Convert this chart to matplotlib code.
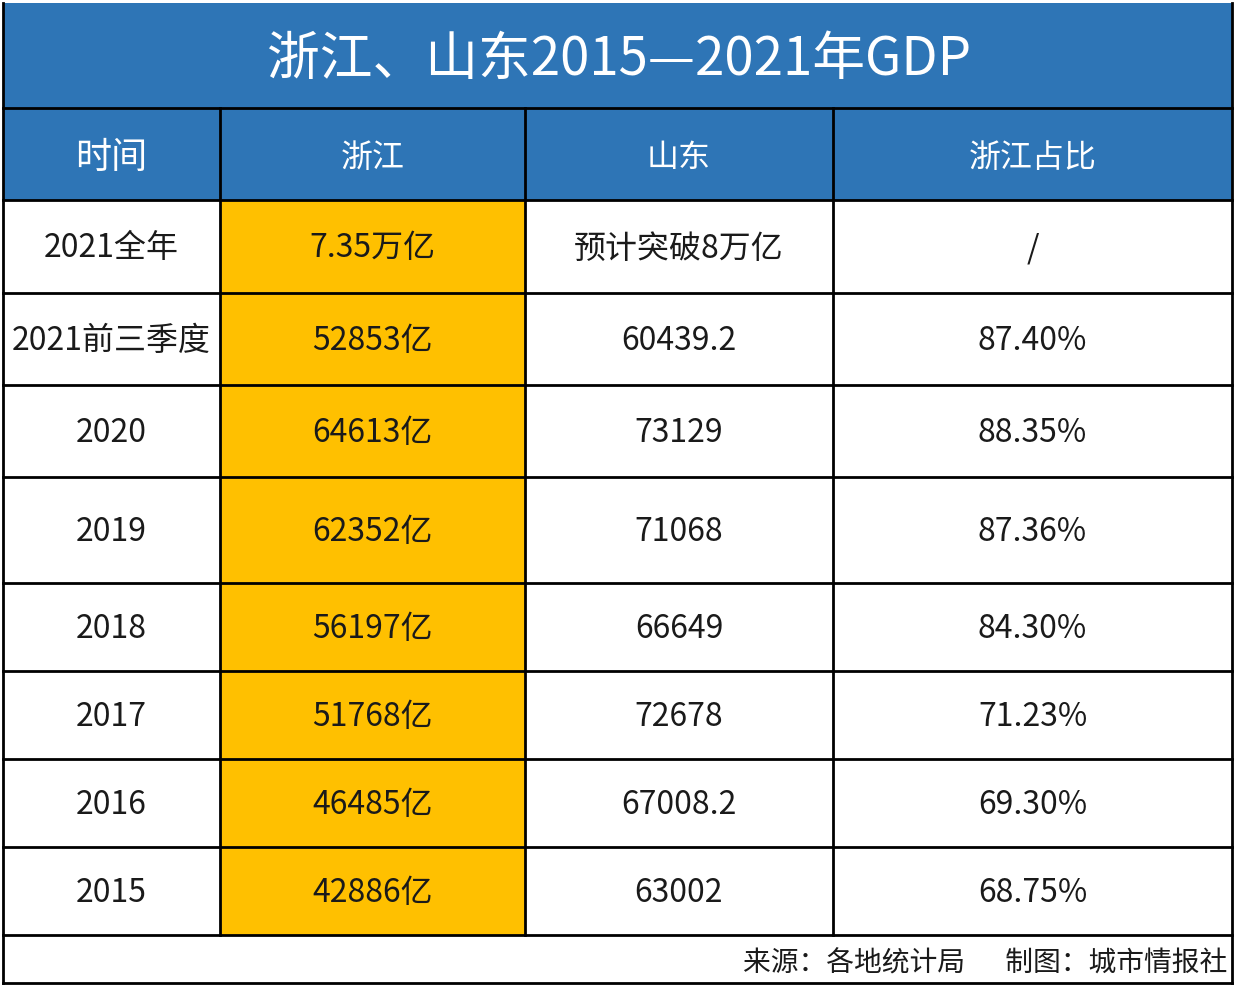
"""
浙江、山东2015—2021年GDP table
"""

import matplotlib
matplotlib.use("Agg")
import matplotlib.pyplot as plt
from matplotlib.patches import Rectangle

plt.rcParams['font.family'] = ['Noto Sans CJK SC', 'DejaVu Sans']

title = "浙江、山东2015—2021年GDP"
headers = ["时间", "浙江", "山东", "浙江占比"]
periods = ["2021全年", "2021前三季度", "2020", "2019", "2018", "2017", "2016", "2015"]
zhejiang = ["7.35万亿", "52853亿", "64613亿", "62352亿", "56197亿", "51768亿", "46485亿", "42886亿"]
shandong = ["预计突破8万亿", "60439.2", "73129", "71068", "66649", "72678", "67008.2", "63002"]
share = ["/", "87.40%", "88.35%", "87.36%", "84.30%", "71.23%", "69.30%", "68.75%"]
source = "来源：各地统计局　  制图：城市情报社"

BLUE = "#2E75B6"
YELLOW = "#FFC000"

# layout in pixels
left, right = 3, 1232
col_edges = [left, 220, 525, 833, right]
title_top, header_top = 3, 108
row_edges = [200, 293, 385, 477, 583, 671, 759, 847, 935]
bottom = 983

fig = plt.figure(figsize=(12.36, 9.86), dpi=100)
ax = fig.add_axes([0, 0, 1, 1])
ax.set_xlim(0, 1236)
ax.set_ylim(986, 0)
ax.axis('off')

lw = 2.0

# title band
ax.add_patch(Rectangle((left, title_top), right - left, header_top - title_top,
                       facecolor=BLUE, edgecolor='none'))
ax.text((left + right) / 2 + 2, (title_top + header_top) / 2 + 4, title,
        ha='center', va='center', color='white', fontsize=38)

# header row
ax.add_patch(Rectangle((left, header_top), right - left, row_edges[0] - header_top,
                       facecolor=BLUE, edgecolor='none'))
for i, h in enumerate(headers):
    cx = (col_edges[i] + col_edges[i + 1]) / 2
    ax.text(cx, (header_top + row_edges[0]) / 2 + 4, h, ha='center', va='center',
            color='white', fontsize=26 if i == 0 else 23)

# data rows
columns = [periods, zhejiang, shandong, share]
for r in range(len(periods)):
    y0, y1 = row_edges[r], row_edges[r + 1]
    ax.add_patch(Rectangle((col_edges[1], y0), col_edges[2] - col_edges[1], y1 - y0,
                           facecolor=YELLOW, edgecolor='none'))
    for c, col in enumerate(columns):
        cx = (col_edges[c] + col_edges[c + 1]) / 2
        ax.text(cx, (y0 + y1) / 2 + 2, col[r], ha='center', va='center',
                color='#1a1a1a', fontsize=23)

# grid lines
ax.plot([left, right], [header_top, header_top], color='black', lw=lw)
for y in row_edges:
    ax.plot([left, right], [y, y], color='black', lw=lw)
for x in col_edges[1:-1]:
    ax.plot([x, x], [header_top, row_edges[-1]], color='black', lw=lw)
ax.plot([left, left], [title_top, bottom], color='black', lw=lw)
ax.plot([right, right], [title_top, bottom], color='black', lw=lw)
ax.plot([left, right], [bottom, bottom], color='black', lw=lw)

# footer
ax.text(right - 5, (row_edges[-1] + bottom) / 2 + 5, source, ha='right', va='center',
        color='#1a1a1a', fontsize=20)

fig.savefig('out.png', dpi=100)
